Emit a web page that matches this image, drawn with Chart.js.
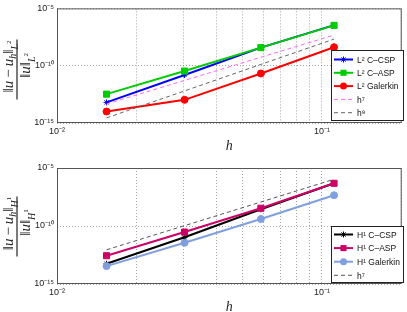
<!DOCTYPE html>
<html>
<head>
<meta charset="utf-8">
<script src="https://cdn.jsdelivr.net/npm/chart.js@4.4.1/dist/chart.umd.min.js"></script>
<style>
html, body { margin: 0; padding: 0; background: #fff; }
#wrap { position: relative; width: 407px; height: 312px; overflow: hidden; }
canvas { position: absolute; left: 0; }
</style>
</head>
<body>
<div id="wrap">
  <canvas id="topChart" width="407" height="160" style="top:0"></canvas>
  <canvas id="botChart" width="407" height="162" style="top:150px"></canvas>
</div>
<script>
// mesh sizes h
const hValues = [0.01538, 0.0303, 0.05882, 0.1111];

// relative L2 errors
const l2Csp = [6.3e-14, 1.55e-11, 3.8e-9, 3.5e-7];
const l2Asp = [3.3e-13, 3.4e-11, 3.8e-9, 3.3e-7];
const l2Gal = [1.0e-14, 1.05e-13, 2.1e-11, 4.1e-9];
const l2H7 = [4.6e-14, 5.2e-12, 5.5e-10, 4.7e-8];
const l2H8 = [2.8e-15, 6.3e-13, 1.3e-10, 2.1e-8];

// relative H1 errors
const h1Csp = [5.6e-14, 1.07e-11, 2.75e-9, 4.8e-7];
const h1Asp = [2.75e-13, 3.0e-11, 3.4e-9, 4.8e-7];
const h1Gal = [3.5e-14, 3.6e-12, 4.0e-10, 4.5e-8];
const h1H7 = [8.9e-13, 1.07e-10, 1.17e-8, 1.07e-6];

// ticks
const xTickVals = [0.01, 0.02, 0.03, 0.04, 0.05, 0.06, 0.07, 0.08, 0.09, 0.1, 0.2];
const xTickLabels = ['10⁻²', '', '', '', '', '', '', '', '', '10⁻¹', ''];
const yTickVals = [1e-15, 1e-10, 1e-5];
const yTickLabels = ['10⁻¹⁵', '10⁻¹⁰', '10⁻⁵'];

function series(label, vals, color, style, radius, width, dash, idx) {
    return {
        label: label,
        data: hValues.map((h, i) => ({ x: h, y: vals[i] })),
        borderColor: color,
        backgroundColor: color,
        pointBackgroundColor: color,
        pointBorderColor: color,
        pointStyle: style,
        pointRadius: radius,
        pointBorderWidth: 1,
        borderWidth: width,
        borderDash: dash,
        fill: false,
        tension: 0,
        order: 10 - idx
    };
}

function drawMarker(ctx, style, x, y, r, color) {
    ctx.save();
    ctx.fillStyle = color;
    ctx.strokeStyle = color;
    ctx.lineWidth = 1;
    ctx.setLineDash([]);
    ctx.beginPath();
    if (style === 'rect') {
        let s = r * Math.SQRT1_2;
        ctx.rect(x - s, y - s, 2 * s, 2 * s);
        ctx.fill();
    } else if (style === 'circle') {
        ctx.arc(x, y, r, 0, Math.PI * 2);
        ctx.fill();
    } else if (style === 'star') {
        ctx.moveTo(x - r, y); ctx.lineTo(x + r, y);
        ctx.moveTo(x, y - r); ctx.lineTo(x, y + r);
        let d = r * Math.SQRT1_2;
        ctx.moveTo(x - d, y - d); ctx.lineTo(x + d, y + d);
        ctx.moveTo(x - d, y + d); ctx.lineTo(x + d, y - d);
        ctx.stroke();
    }
    ctx.restore();
}

const framePlugin = {
    id: 'frame',
    afterDatasetsDraw(chart) {
        const a = chart.chartArea, ctx = chart.ctx;
        ctx.save();
        ctx.strokeStyle = '#555';
        ctx.lineWidth = 1;
        ctx.strokeRect(a.left + 0.5, a.top + 0.5, a.right - a.left - 1, a.bottom - a.top - 1);
        ctx.restore();
    }
};

const boxLegend = {
    id: 'boxLegend',
    afterDraw(chart, args, opts) {
        const ctx = chart.ctx;
        ctx.save();
        ctx.fillStyle = '#fff';
        ctx.fillRect(opts.x, opts.y, opts.w, opts.h);
        ctx.strokeStyle = '#222';
        ctx.lineWidth = 1;
        ctx.strokeRect(opts.x + 0.5, opts.y + 0.5, opts.w, opts.h);
        chart.data.datasets.forEach((ds, i) => {
            let y = opts.y + opts.first + i * opts.row;
            let x0 = opts.x + 3, x1 = opts.x + 22;
            ctx.strokeStyle = ds.borderColor;
            ctx.lineWidth = ds.borderWidth;
            ctx.setLineDash(ds.borderDash || []);
            ctx.beginPath();
            ctx.moveTo(x0, y);
            ctx.lineTo(x1, y);
            ctx.stroke();
            ctx.setLineDash([]);
            if (ds.pointRadius > 0)
                drawMarker(ctx, ds.pointStyle, (x0 + x1) / 2, y, ds.pointRadius, ds.borderColor);
            ctx.fillStyle = '#111';
            ctx.font = '8.5px "Liberation Sans"';
            ctx.textBaseline = 'middle';
            ctx.fillText(ds.label, x1 + 4, y + 1);
        });
        ctx.restore();
    }
};

// fraction label on the left, rotated
const fracLabel = {
    id: 'fracLabel',
    afterDraw(chart, args, opts) {
        const ctx = chart.ctx;
        const big = 'italic 15px "Liberation Serif"';
        const up = '15px "Liberation Serif"';
        const sub = 'italic 10px "Liberation Serif"';
        const sup = '7px "Liberation Serif"';
        const num = [['‖', up, 0], ['u', big, 0], ['\u2009−\u2009', up, 0], ['u', big, 0], ['h', sub, 3],
                     ['‖', up, 0], [opts.sym, sub, 5], [opts.pow, sup, -2]];
        const den = [['‖', up, 0], ['u', big, 0], ['‖', up, 0], [opts.sym, sub, 5], [opts.pow, sup, -2]];

        function line(parts, base, shift) {
            let w = 0;
            parts.forEach(p => { ctx.font = p[1]; w += ctx.measureText(p[0]).width; });
            let x = -w / 2 + shift;
            parts.forEach(p => {
                ctx.font = p[1];
                ctx.fillText(p[0], x, base + p[2]);
                x += ctx.measureText(p[0]).width;
            });
        }

        ctx.save();
        ctx.translate(opts.cx, opts.cy);
        ctx.rotate(-Math.PI / 2);
        ctx.fillStyle = '#222';
        ctx.textBaseline = 'alphabetic';
        line(num, -4, 3);
        line(den, 13, 4);
        ctx.strokeStyle = '#333';
        ctx.lineWidth = 1.3;
        ctx.beginPath();
        ctx.moveTo(-30, 0);
        ctx.lineTo(30, 0);
        ctx.stroke();
        ctx.restore();
    }
};

function makeScales(xHeight, titlePadBottom) {
    return {
        x: {
            type: 'logarithmic',
            min: 0.01,
            max: 0.2,
            afterBuildTicks: s => { s.ticks = xTickVals.map(v => ({ value: v })); },
            afterFit: s => { s.height = xHeight; },
            ticks: {
                autoSkip: false,
                maxRotation: 0,
                padding: 3,
                color: '#222',
                font: { family: 'Liberation Sans', size: 9 },
                callback: (v, i) => xTickLabels[i]
            },
            grid: { color: 'rgba(0,0,0,0.35)', lineWidth: 1, drawTicks: false },
            border: { display: false, dash: [1, 2] },
            title: {
                display: true,
                text: 'h',
                color: '#222',
                font: { family: 'Liberation Serif', style: 'italic', size: 14 },
                padding: { top: 0, bottom: titlePadBottom }
            }
        },
        y: {
            type: 'logarithmic',
            min: 1e-15,
            max: 1e-5,
            afterBuildTicks: s => { s.ticks = yTickVals.map(v => ({ value: v })); },
            afterFit: s => { s.width = 57; },
            ticks: {
                autoSkip: false,
                padding: 3,
                color: '#222',
                font: { family: 'Liberation Sans', size: 9 },
                callback: (v, i) => yTickLabels[i]
            },
            grid: { color: 'rgba(0,0,0,0.35)', lineWidth: 1, drawTicks: false },
            border: { display: false, dash: [1, 2] }
        }
    };
}

new Chart(document.getElementById('topChart'), {
    type: 'line',
    data: {
        datasets: [
            series('L² C–CSP', l2Csp, '#0000ff', 'star', 3, 2, [], 0),
            series('L² C–ASP', l2Asp, '#00cc00', 'rect', 4.3, 2, [], 1),
            series('L² Galerkin', l2Gal, '#ff0000', 'circle', 3.5, 2, [], 2),
            series('h⁷', l2H7, '#ff66ff', 'circle', 0, 1, [4, 3], 3),
            series('h⁸', l2H8, '#666666', 'circle', 0, 1, [4, 3], 4)
        ]
    },
    options: {
        responsive: false,
        animation: false,
        devicePixelRatio: 1,
        layout: { padding: { top: 6, right: 1, left: 0, bottom: 0 } },
        scales: makeScales(37, 5),
        plugins: {
            legend: { display: false },
            tooltip: { enabled: false },
            boxLegend: { x: 331, y: 50, w: 72, h: 70, first: 9.5, row: 13.3 },
            fracLabel: { cx: 17, cy: 69.5, sym: 'L', pow: '2' }
        }
    },
    plugins: [framePlugin, boxLegend, fracLabel]
});

new Chart(document.getElementById('botChart'), {
    type: 'line',
    data: {
        datasets: [
            series('H¹ C–CSP', h1Csp, '#000000', 'star', 3, 2, [], 0),
            series('H¹ C–ASP', h1Asp, '#cc0066', 'rect', 4.3, 2, [], 1),
            series('H¹ Galerkin', h1Gal, '#7f9fdf', 'circle', 3.5, 2, [], 2),
            series('h⁷', h1H7, '#555555', 'circle', 0, 1, [4, 3], 3)
        ]
    },
    options: {
        responsive: false,
        animation: false,
        devicePixelRatio: 1,
        layout: { padding: { top: 18, right: 1, left: 0, bottom: 0 } },
        scales: makeScales(28, -4),
        plugins: {
            legend: { display: false },
            tooltip: { enabled: false },
            boxLegend: { x: 331, y: 76, w: 72, h: 56, first: 8.5, row: 13.6 },
            fracLabel: { cx: 17, cy: 76.5, sym: 'H', pow: '1' }
        }
    },
    plugins: [framePlugin, boxLegend, fracLabel]
});
</script>
</body>
</html>
